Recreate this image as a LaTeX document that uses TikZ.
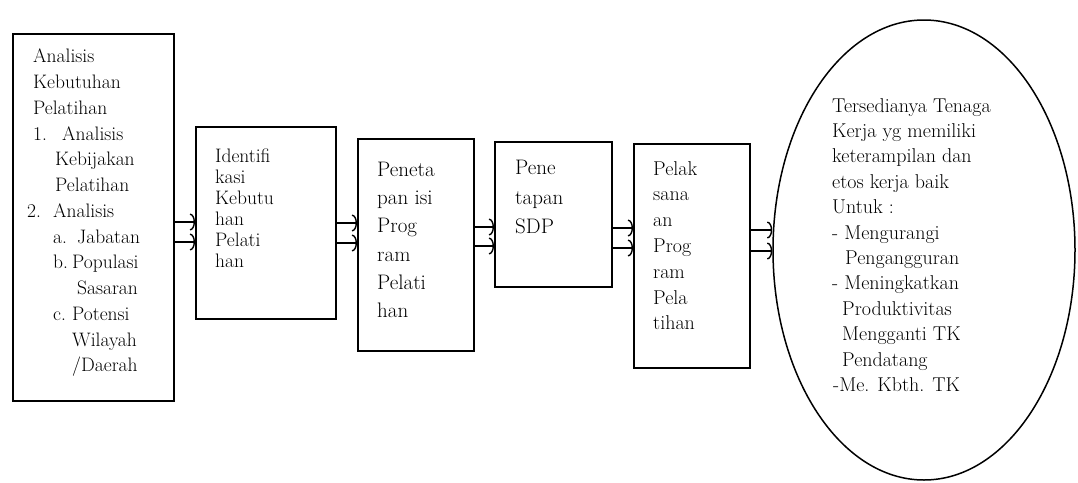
\documentclass[tikz,border=0pt]{standalone}
\usepackage{fontspec}
\usetikzlibrary{arrows.meta,shapes.geometric}
\begin{document}
\begin{tikzpicture}[x=1pt,y=-1pt,
  box/.style={draw,line width=1.5pt,rectangle,inner sep=0pt,anchor=north west},
  txt/.style={align=left,inner sep=0pt,anchor=north west},
  arr/.style={line width=1.4pt,-{Arc Barb[length=5pt,width=17pt,line width=1.4pt]}}]
\useasboundingbox (0,0) rectangle (1078,482);
% boxes
\node[box,minimum width=161pt,minimum height=367pt] (b1) at (12,33) {};
\node[box,minimum width=140pt,minimum height=192pt] (b2) at (195,126) {};
\node[box,minimum width=116pt,minimum height=212pt] (b3) at (357,138) {};
\node[box,minimum width=117pt,minimum height=145pt] (b4) at (494,141) {};
\node[box,minimum width=116pt,minimum height=224pt] (b5) at (633,143) {};
\node[draw,line width=1.5pt,ellipse,inner sep=0pt,minimum width=302pt,minimum height=460pt] (e) at (924,250) {};
% texts
\node[txt,font=\fontsize{19.5}{25.75}\selectfont] (t1) at (27,49) {%
\hspace*{6pt}Analisis\\
\hspace*{6pt}Kebutuhan\\
\hspace*{6pt}Pelatihan\\
\hspace*{6pt}\makebox[29pt][l]{1.}Analisis\\
\hspace*{28pt}Kebijakan\\
\hspace*{28pt}Pelatihan\\
\makebox[26pt][l]{2.}Analisis\\
\hspace*{26pt}\makebox[24pt][l]{a.}Jabatan\\
\hspace*{26pt}\makebox[19pt][l]{b.}Populasi\\
\hspace*{50pt}Sasaran\\
\hspace*{26pt}\makebox[19pt][l]{c.}Potensi\\
\hspace*{45pt}Wilayah\\
\hspace*{45pt}/Daerah};
\node[txt,font=\fontsize{19.5}{21}\selectfont] (t2) at (215,149) {Identifi\\kasi\\Kebutu\\han\\Pelati\\han};
\node[txt,font=\fontsize{21}{28.2}\selectfont] (t3) at (377,162) {Peneta\\pan isi\\Prog\\ram\\Pelati\\han};
\node[txt,font=\fontsize{21}{29.5}\selectfont] (t4) at (515,160) {Pene\\tapan\\SDP};
\node[txt,font=\fontsize{20}{25.8}\selectfont] (t5) at (653,161) {Pelak\\sana\\an\\Prog\\ram\\Pela\\tihan};
\node[txt,font=\fontsize{20}{25.4}\selectfont] (t6) at (832,98) {%
Tersedianya Tenaga\\
Kerja yg memiliki\\
keterampilan dan\\
etos kerja baik\\
Untuk :\\
- Mengurangi\\
\hspace*{13pt}Pengangguran\\
- Meningkatkan\\
\hspace*{10pt}Produktivitas\\
\hspace*{10pt}Mengganti TK\\
\hspace*{10pt}Pendatang\\
\hspace*{1pt}-Me. Kbth. TK};
% connectors
\draw[arr] (b1.east |- 0,222) -- (b2.west |- 0,222);
\draw[arr] (b1.east |- 0,242) -- (b2.west |- 0,242);
\draw[arr] (b2.east |- 0,223) -- (b3.west |- 0,223);
\draw[arr] (b2.east |- 0,243) -- (b3.west |- 0,243);
\draw[arr] (b3.east |- 0,227) -- (b4.west |- 0,227);
\draw[arr] (b3.east |- 0,246) -- (b4.west |- 0,246);
\draw[arr] (b4.east |- 0,228) -- (b5.west |- 0,228);
\draw[arr] (b4.east |- 0,248) -- (b5.west |- 0,248);
\draw[arr] (b5.east |- 0,230) -- (e.west |- 0,230);
\draw[arr] (b5.east |- 0,251) -- (e.west |- 0,251);
\end{tikzpicture}
\end{document}
